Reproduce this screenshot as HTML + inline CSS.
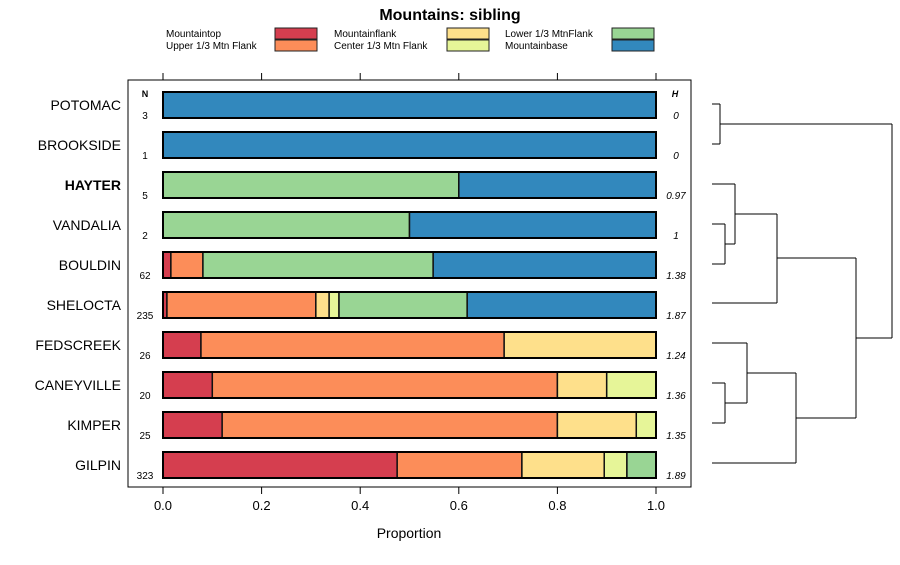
<!DOCTYPE html>
<html><head><meta charset="utf-8"><style>
body{margin:0;background:#fff;}
svg{font-family:"Liberation Sans",Arial,sans-serif;}
</style></head><body>
<svg id="c" width="900" height="560" xmlns="http://www.w3.org/2000/svg">
<text x="450" y="20" text-anchor="middle" font-size="16" font-weight="bold">Mountains: sibling</text>
<g id="legend"></g>
<rect x="128" y="80" width="563" height="407" fill="none" stroke="#000"/>
<g id="axes"></g>
<g id="bars"></g>
<g id="dendro" stroke="#000" fill="none" stroke-width="1"></g>
<text x="145" y="97" font-size="9" font-weight="bold" text-anchor="middle">N</text>
<text x="675" y="97" font-size="9" font-weight="bold" font-style="italic" text-anchor="middle">H</text>
<text x="409" y="538" font-size="14" text-anchor="middle">Proportion</text>
</svg>
<script>
const sites=["POTOMAC","BROOKSIDE","HAYTER","VANDALIA","BOULDIN","SHELOCTA","FEDSCREEK","CANEYVILLE","KIMPER","GILPIN"];
const counts=[3,1,5,2,62,235,26,20,25,323];
const hvals=["0","0","0.97","1","1.38","1.87","1.24","1.36","1.35","1.89"];
const categories=["Mountaintop","Upper 1/3 Mtn Flank","Mountainflank","Center 1/3 Mtn Flank","Lower 1/3 MtnFlank","Mountainbase"];
const colors=["#d53e4f","#fc8d59","#fee08b","#e6f598","#99d594","#3288bd"];
const mountaintop=[0,0,0,0,0.016,0.008,0.077,0.1,0.12,0.475];
const upperFlank=[0,0,0,0,0.065,0.302,0.615,0.7,0.68,0.253];
const mountainflank=[0,0,0,0,0,0.027,0.308,0.1,0.16,0.167];
const centerFlank=[0,0,0,0,0,0.02,0,0.1,0.04,0.046];
const lowerFlank=[0,0,0.6,0.5,0.467,0.26,0,0,0,0.059];
const mountainbase=[1,1,0.4,0.5,0.452,0.383,0,0,0,0];
const series=[mountaintop,upperFlank,mountainflank,centerFlank,lowerFlank,mountainbase];
const ticks=[0,0.2,0.4,0.6,0.8,1];
const tickLabels=["0.0","0.2","0.4","0.6","0.8","1.0"];
const NS="http://www.w3.org/2000/svg";
const xs=v=>163+v*493;
const ys=i=>105+i*40;
function mk(t,a,p){const e=document.createElementNS(NS,t);for(const k in a)e.setAttribute(k,a[k]);p.appendChild(e);return e;}
const axes=document.getElementById('axes'),bars=document.getElementById('bars'),lg=document.getElementById('legend'),svg=document.getElementById('c');
ticks.forEach((t,i)=>{
  const x=xs(t);
  let l=mk('line',{x1:x,x2:x,y1:487,y2:494,stroke:'#000'},axes);
  
  
  l=mk('line',{x1:x,x2:x,y1:73,y2:80,stroke:'#000'},axes);
  
  
  const tx=mk('text',{x:x,y:510,'font-size':13,'text-anchor':'middle'},axes);
  tx.textContent=tickLabels[i];
  
  
});
sites.forEach((s,i)=>{
  const y=ys(i);
  const lab=mk('text',{x:121,y:y+5,'font-size':14,'text-anchor':'end','font-weight':s==="HAYTER"?'bold':'normal'},svg);
  lab.textContent=s;
  
  
  const n=mk('text',{x:145,y:y+14,'font-size':10,'text-anchor':'middle'},svg);
  n.textContent=counts[i];
  
  
  const h=mk('text',{x:676,y:y+14,'font-size':10,'font-style':'italic','text-anchor':'middle'},svg);
  h.textContent=hvals[i];
  
  
  let acc=0;
  series.forEach((arr,k)=>{
    const v=arr[i];if(v<=0)return;
    const r=mk('rect',{x:xs(acc),y:y-13,width:v*493,height:26,fill:colors[k],stroke:'#111','stroke-width':1.5},bars);
    
    
    acc+=v;
  });
  const o=mk('rect',{x:xs(0),y:y-13,width:493,height:26,fill:'none',stroke:'#000','stroke-width':2},bars);
  
  
});
// legend
const lpos=[[166,34,275],[166,46,275],[334,34,447],[334,46,447],[505,34,612],[505,46,612]];
categories.forEach((c,k)=>{
  const p=lpos[k];
  const t=mk('text',{x:p[0],y:p[1]+3,'font-size':10},lg);
  t.textContent=c;
  
  
  const r=mk('rect',{x:p[2],y:p[1]-6,width:42,height:11,fill:colors[k],stroke:'#222'},lg);
  
  
});
// dendrogram
const d=document.getElementById('dendro');
const segs=[[712,104,720,104],[712,144,720,144],[720,104,720,144],[720,124,892,124],
[712,184,735,184],[712,224,725,224],[712,264,725,264],[725,224,725,264],[725,244,735,244],[735,184,735,244],[735,214,777,214],
[712,303,777,303],[777,214,777,258],[777,303,777,258],[777,258,856,258],
[712,343,747,343],[712,383,725,383],[712,423,725,423],[725,383,725,423],[725,403,747,403],[747,343,747,403],[747,373,796,373],
[712,463,796,463],[796,373,796,463],[796,418,856,418],[856,258,856,418],[856,338,892,338],[892,124,892,338]];
segs.forEach(s=>{
  const l=mk('line',{x1:s[0],y1:s[1],x2:s[2],y2:s[3]},d);
  
  
});
</script>
</body></html>
